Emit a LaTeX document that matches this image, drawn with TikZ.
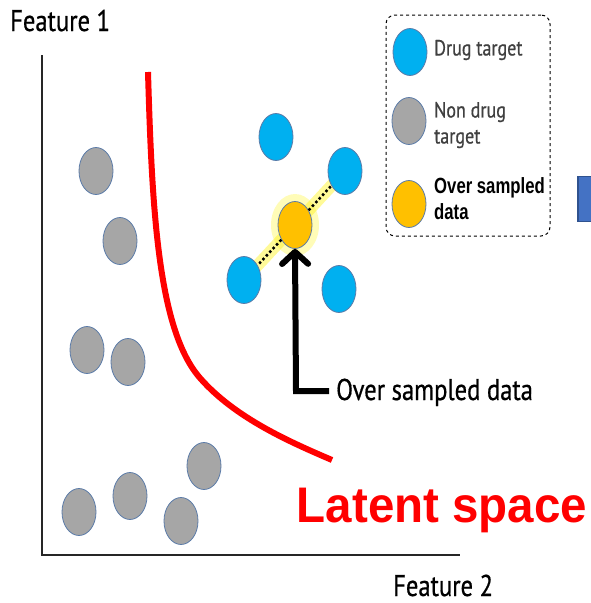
\documentclass[tikz,border=0pt]{standalone}
\usepackage{fontspec}
\usetikzlibrary{shapes.geometric,arrows.meta}
\newfontfamily\cf{PT Sans}[FakeStretch=0.82,FakeBold=0.6]
\newfontfamily\cfbold{Liberation Sans}[FakeStretch=0.76]
\newfontfamily\lat{Liberation Sans}[FakeStretch=0.95]
\definecolor{dtblue}{HTML}{00B0F0}
\definecolor{ndgray}{HTML}{A6A6A6}
\definecolor{osorange}{HTML}{FFC000}
\definecolor{edgeblue}{HTML}{5B7BA8}
\definecolor{boxblue}{HTML}{4472C4}
\definecolor{boxedge}{HTML}{2F528F}
\tikzset{
  dot/.style={ellipse, minimum width=34pt, minimum height=47pt, inner sep=0pt, draw=edgeblue, line width=0.8pt},
  dt/.style={dot, fill=dtblue},
  nd/.style={dot, fill=ndgray},
  os/.style={dot, fill=osorange},
  lbl/.style={font=\cf\fontsize{30}{32}\selectfont, inner sep=0pt, text=black, anchor=base west},
  leg/.style={font=\cf\fontsize{22}{26}\selectfont, inner sep=0pt, anchor=west, align=left, text=black!75},
  glow/.style={yellow!90!white, opacity=0.45, line width=12pt, line cap=round},
  dots/.style={black, line width=2.5pt, dash pattern=on 2.5pt off 2.5pt},
}
\begin{document}
\begin{tikzpicture}[x=1pt,y=-1pt]
\useasboundingbox (0,0) rectangle (591,603);
% axes
\coordinate (top) at (42,55);
\coordinate (origin) at (42,555);
\coordinate (xend) at (460,555);
\draw[line width=1.2pt, black!85] (top) -- (origin) -- (xend);
\node[lbl] (f1) at (10,31) {Feature 1};
\node[lbl] (f2) at (393,596) {Feature 2};
% red boundary
\draw[red, line width=6pt] (148,72) .. controls (152,210) and (158,330) .. (200,378) .. controls (235,418) and (290,442) .. (332,460);
% non drug targets
\node[nd] (g1) at (96,171) {};
\node[nd] (g2) at (120,241) {};
\node[nd] (g3) at (87,350) {};
\node[nd] (g4) at (128,362) {};
\node[nd] (g5) at (204,466) {};
\node[nd] (g6) at (130,496) {};
\node[nd] (g7) at (79,512) {};
\node[nd] (g8) at (181,521) {};
% glow
\fill[yellow!80!white, opacity=0.35] (295,225) ellipse (24pt and 31pt);
\draw[glow] (295,225) -- (345,171);
\draw[glow] (295,225) -- (244,280);
% drug targets
\node[dt] (b1) at (276,137) {};
\node[dt] (b2) at (345,171) {};
\node[dt] (b3) at (244,280) {};
\node[dt] (b4) at (339,289) {};
\node[os] (o) at (295,225) {};
\draw[dots] (o) -- (b2);
\draw[dots] (o) -- (b3);
% arrow and label
\node[lbl] (osl) at (336,400) {Over sampled data};
\coordinate (hend) at (329,391);
\coordinate (bend) at (296,391);
\draw[line width=6pt, -{Straight Barb[length=12pt,width=26pt,round]}] (hend) -- (bend) -- (o.south);
% latent space
\node[font=\lat\bfseries\fontsize{50}{52}\selectfont, text=red, inner sep=0pt, anchor=base] (ls) at (442,522) {Latent space};
% legend
\node[draw, dashed, line width=1pt, rounded corners=9pt, minimum width=164pt, minimum height=221pt] (legbox) at (468,125.5) {};
\node[dt] (lb) at (410,52) {};
\node[nd] (lg) at (409,121) {};
\node[os] (lo) at (409,204) {};
\node[leg] (lbt) at (434,50) {Drug target};
\node[leg] (lgt) at (434,125) {Non drug\\target};
\node[leg, font=\cfbold\bfseries\fontsize{22}{26}\selectfont, text=black] (lot) at (434,199) {Over sampled\\data};
% partial blue box
\node[fill=boxblue, draw=boxedge, line width=1.5pt, minimum width=20pt, minimum height=45pt, inner sep=0pt] (bb) at (588,199) {};
\end{tikzpicture}
\end{document}
